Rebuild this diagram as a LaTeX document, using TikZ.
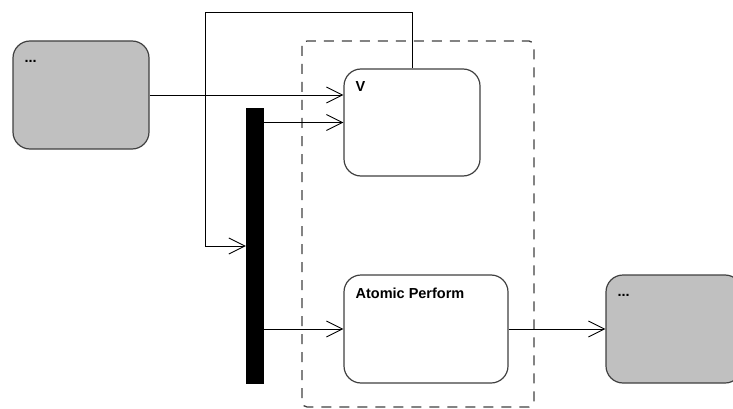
\documentclass[tikz,border=0pt]{standalone}
\usepackage{fontspec}
\setmainfont{Liberation Sans}
\usetikzlibrary{arrows.meta,calc}
\definecolor{boxgray}{HTML}{C0C0C0}
\definecolor{edgegray}{HTML}{404040}
\tikzset{
  statebox/.style={draw=edgegray, line width=1.2pt, rounded corners=17pt, inner sep=0pt},
  graybox/.style={statebox, fill=boxgray},
  whitebox/.style={statebox, fill=white},
  lbl/.style={anchor=base west, inner sep=0pt, font=\bfseries\fontsize{14.5}{17}\selectfont},
  flow/.style={line width=0.9pt, -{Straight Barb[length=16pt,width=16pt,line width=0.9pt]}},
  region/.style={draw=edgegray, line width=1.3pt, dash pattern=on 10pt off 8pt, rounded corners=5pt},
  forkbar/.style={fill=black, draw=none, inner sep=0pt}
}
\begin{document}
\begin{tikzpicture}[x=1pt,y=-1pt]
\useasboundingbox (0,0) rectangle (733,409);
% dashed region
\draw[region] (302,41) rectangle (534,407);
% nodes
\node[graybox, minimum width=136pt, minimum height=108pt] (L) at (81,95) {};
\node[whitebox, minimum width=136pt, minimum height=107pt] (V) at (412,122.5) {};
\node[whitebox, minimum width=164pt, minimum height=108pt] (AP) at (426,329) {};
\node[graybox, minimum width=136pt, minimum height=108pt] (R) at (674,329) {};
\node[forkbar, minimum width=18pt, minimum height=276pt] (bar) at (255,246) {};
% labels
\node[lbl] (Lt) at ($(L.north west)+(12,22)$) {...};
\node[lbl] (Vt) at ($(V.north west)+(12,23)$) {V};
\node[lbl] (APt) at ($(AP.north west)+(12,24)$) {Atomic Perform};
\node[lbl] (Rt) at ($(R.north west)+(12,22)$) {...};
% connectors
\coordinate (top) at (205,12);
\draw[flow] (L.east) -- (L.east -| V.west);
\draw[flow] (bar.east |- V.west) -- (V.west);
\draw[flow] (bar.east |- AP.west) -- (AP.west);
\draw[flow] (AP.east) -- (R.west);
\draw[flow] (V.north) |- (top) |- (bar.west);
\end{tikzpicture}
\end{document}
